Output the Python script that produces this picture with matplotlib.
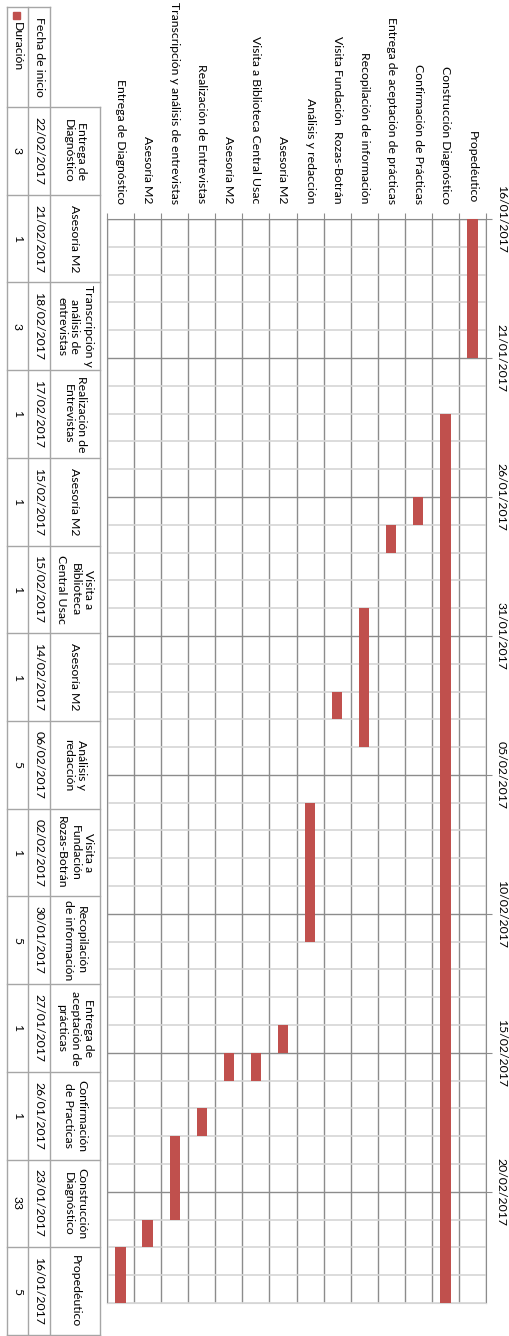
import datetime as dt
import matplotlib
matplotlib.use("Agg")
import matplotlib.pyplot as plt
import matplotlib.dates as mdates
from matplotlib.ticker import MultipleLocator, NullFormatter
from matplotlib.patches import Rectangle

plt.rcParams['font.family'] = ['Lato', 'DejaVu Sans']

# Tareas del cronograma (orden de la hoja)
tareas = [
    "Propedéutico",
    "Construcción Diagnóstico",
    "Confirmación de Prácticas",
    "Entrega de aceptación de prácticas",
    "Recopilación de información",
    "Visita Fundación  Rozas-Botrán",
    "Análisis y redacción",
    "Asesoría M2",
    "Visita a Biblioteca Central Usac",
    "Asesoría M2",
    "Realización de Entrevistas",
    "Transcripción y análisis de entrevistas",
    "Asesoría M2",
    "Entrega de Diagnóstico",
]
# Encabezados de la tabla de datos (con saltos de linea)
tabla_tareas = [
    "Propedéutico",
    "Construcción\nDiagnóstico",
    "Confirmación\nde Practicas",
    "Entrega de\naceptación de\nprácticas",
    "Recopilación\nde información",
    "Visita a\nFundación\nRozas-Botrán",
    "Análisis y\nredacción",
    "Asesoría M2",
    "Visita a\nBiblioteca\nCentral Usac",
    "Asesoría M2",
    "Realización de\nEntrevistas",
    "Transcripción y\nanálisis de\nentrevistas",
    "Asesoría M2",
    "Entrega de\nDiagnóstico",
]
fechas_inicio = [
    "16/01/2017", "23/01/2017", "26/01/2017", "27/01/2017", "30/01/2017",
    "02/02/2017", "06/02/2017", "14/02/2017", "15/02/2017", "15/02/2017",
    "17/02/2017", "18/02/2017", "21/02/2017", "22/02/2017",
]
duraciones = [5, 33, 1, 1, 5, 1, 5, 1, 1, 1, 1, 3, 1, 3]

eje_inicio = "16/01/2017"
eje_fin = "24/02/2017"

ROJO = '#C0504D'
GRIS = '#8c8c8c'
GRIS_CLARO = '#d6d6d6'
TEXTO = '#000000'
FS = 8.8


def a_num(s):
    return mdates.date2num(dt.datetime.strptime(s, "%d/%m/%Y"))


W, H = 510, 1336
fig = plt.figure(figsize=(W / 100, H / 100), dpi=100)

# --- grafico de Gantt (girado) ---
ax = fig.add_axes([107 / W, 1 - 1303 / H, (486 - 107) / W, (1303 - 219) / H])
n = len(tareas)
xs = [i + 0.5 for i in range(n)]
inicios = [a_num(s) for s in fechas_inicio]
ax.bar(xs, duraciones, bottom=inicios, width=0.38, color=ROJO, zorder=3)

ax.set_xlim(n, 0)
ax.set_ylim(a_num(eje_fin), a_num(eje_inicio))

ax.xaxis.tick_top()
ax.set_xticks(range(n + 1))
ax.xaxis.set_major_formatter(NullFormatter())
ax.set_xticks(xs, labels=tareas, minor=True)
ax.tick_params(axis='x', which='major', length=4, color=GRIS, top=True, bottom=False)
ax.tick_params(axis='x', which='minor', length=0, pad=11, labelsize=FS, labelcolor=TEXTO,
               labelrotation=-90, top=True, bottom=False, labeltop=True, labelbottom=False)

ax.yaxis.tick_right()
ax.yaxis.set_major_locator(MultipleLocator(5, offset=a_num(eje_inicio) % 5))
ax.yaxis.set_minor_locator(MultipleLocator(1))
ax.yaxis.set_major_formatter(mdates.DateFormatter('%d/%m/%Y'))
ax.tick_params(axis='y', which='major', length=4, color=GRIS, pad=3, labelsize=FS,
               labelcolor=TEXTO, labelrotation=-90)
ax.tick_params(axis='y', which='minor', length=0)
for lab in ax.get_yticklabels():
    lab.set_va('center')

ax.grid(True, axis='x', which='major', color=GRIS, lw=1, zorder=1)
ax.grid(True, axis='y', which='minor', color=GRIS_CLARO, lw=1.2, zorder=1)
ax.grid(True, axis='y', which='major', color=GRIS, lw=1, zorder=2)
ax.set_axisbelow(True)
for lado in ['left', 'right', 'top']:
    ax.spines[lado].set_color(GRIS)
ax.spines['bottom'].set_color(GRIS_CLARO)

# --- tabla de datos ---
tab = fig.add_axes([0, 0, 1, 1])
tab.set_xlim(0, W)
tab.set_ylim(H, 0)
tab.axis('off')

LINEA = '#a6a6a6'
y_top, y_bot = 107, 1335
cw = (y_bot - y_top) / n
for k in range(n + 1):
    yk = y_top + k * cw
    tab.plot([7, 100], [yk, yk], color=LINEA, lw=1)
tab.plot([7, 50], [7, 7], color=LINEA, lw=1)
for xv in [7, 28, 50]:
    tab.plot([xv, xv], [7, y_bot], color=LINEA, lw=1)
tab.plot([100, 100], [y_top, y_bot], color=LINEA, lw=1)

for k in range(n):
    i = n - 1 - k
    yc = y_top + (k + 0.5) * cw
    tab.text(75, yc, tabla_tareas[i], rotation=-90, ha='center', va='center',
             multialignment='center', fontsize=FS, color=TEXTO, linespacing=1.25)
    tab.text(39, yc, fechas_inicio[i], rotation=-90, ha='center', va='center',
             fontsize=FS, color=TEXTO)
    tab.text(17.5, yc, str(duraciones[i]), rotation=-90, ha='center', va='center',
             fontsize=FS, color=TEXTO)

tab.text(39, 57, "Fecha de inicio", rotation=-90, ha='center', va='center',
         fontsize=FS, color=TEXTO)
tab.add_patch(Rectangle((13, 12), 7, 7, color=ROJO))
tab.text(17.5, 22, "Duración", rotation=-90, ha='center', va='top',
         fontsize=FS, color=TEXTO)

fig.savefig("out.png", dpi=100, facecolor='white')
